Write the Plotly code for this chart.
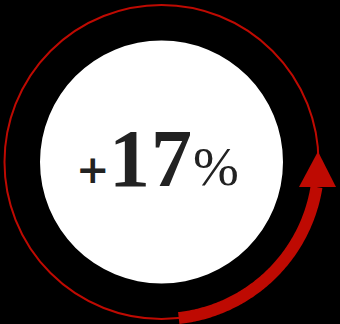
import numpy as np
import plotly.graph_objects as go

# Headline figure
growth_pct = 17
sign = "+"
unit = "%"

W, H = 340, 324
cx, cy = 161.5, 162.0
ring_r = 157.0
disc_r = 121.5
band_w = 12.0
red = "#be0a02"
ink = "#222222"
serif = "Liberation Serif"

# Arc of the growth arrow (screen angles, degrees, y pointing down)
a_start, a_end = 83.7, 9.2

fig = go.Figure()

# Thick arc band as a filled polygon
t = np.radians(np.linspace(a_start, a_end, 120))
r_out, r_in = ring_r + band_w / 2, ring_r - band_w / 2
bx = np.concatenate([cx + r_out * np.cos(t), cx + r_in * np.cos(t[::-1])])
by = np.concatenate([cy + r_out * np.sin(t), cy + r_in * np.sin(t[::-1])])
fig.add_trace(go.Scatter(x=bx, y=by, fill="toself", fillcolor=red, mode="none",
                         hoverinfo="skip", showlegend=False))

# Arrow head at the end of the band
ex = cx + ring_r * np.cos(np.radians(a_end))
ey = cy + ring_r * np.sin(np.radians(a_end))
head_half, head_len = 18.5, 35.5
hx = [ex - head_half + 1, ex + head_half + 1, ex + 1.5, ex - head_half + 1]
hy = [ey, ey, ey - head_len, ey]
fig.add_trace(go.Scatter(x=hx, y=hy, fill="toself", fillcolor=red, mode="none",
                         hoverinfo="skip", showlegend=False))

digits = str(growth_pct)

fig.update_layout(
    width=W, height=H,
    margin=dict(l=0, r=0, t=0, b=0),
    paper_bgcolor="black", plot_bgcolor="black",
    xaxis=dict(range=[0, W], visible=False, fixedrange=True),
    yaxis=dict(range=[H, 0], visible=False, fixedrange=True),
    shapes=[
        dict(type="circle", xref="x", yref="y", layer="below",
             x0=cx - ring_r, x1=cx + ring_r, y0=cy - ring_r, y1=cy + ring_r,
             line=dict(color=red, width=2)),
        dict(type="circle", xref="x", yref="y", layer="below",
             x0=cx - disc_r, x1=cx + disc_r, y0=cy - disc_r, y1=cy + disc_r,
             fillcolor="white", line=dict(width=0)),
    ],
    annotations=[
        dict(x=93, y=168, xref="x", yref="y", xanchor="center", yanchor="middle",
             showarrow=False, text=f"<b>{sign}</b>",
             font=dict(family="DejaVu Serif", size=40, color=ink)),
        dict(x=129, y=158, xref="x", yref="y", xanchor="center", yanchor="middle",
             showarrow=False, text=f"<b>{digits[0]}</b>",
             font=dict(family=serif, size=82, color=ink)),
        dict(x=171.5, y=158, xref="x", yref="y", xanchor="center", yanchor="middle",
             showarrow=False, text=f"<b>{digits[1:]}</b>",
             font=dict(family=serif, size=82, color=ink)),
        dict(x=216, y=166, xref="x", yref="y", xanchor="center", yanchor="middle",
             showarrow=False, text=unit,
             font=dict(family=serif, size=55, color=ink)),
    ],
)

fig.write_html("out.html")
